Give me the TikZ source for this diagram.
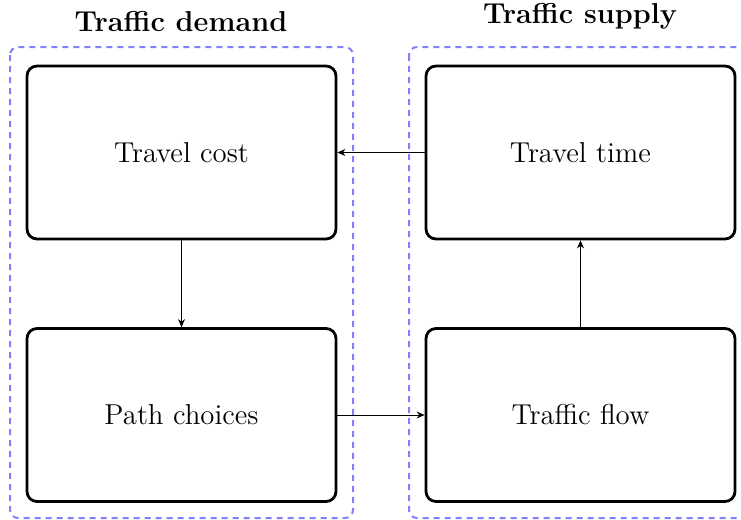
\documentclass[tikz,border=0pt]{standalone}
\usetikzlibrary{arrows.meta}
\begin{document}
\begin{tikzpicture}[x=0.5pt,y=-0.5pt,
  stage/.style={draw=black,line width=1.4pt,rounded corners=5pt,
    minimum width=154.5pt,minimum height=86.5pt,font=\Large,inner sep=0pt},
  group/.style={draw=blue!50,line width=1pt,dash pattern=on 3pt off 2.5pt,rounded corners=4pt},
  title/.style={font=\Large\bfseries},
  flow/.style={-{Stealth[length=4pt,width=3.5pt]},line width=0.4pt}]
\useasboundingbox (0,0) rectangle (741,520);
% dashed groups
\draw[group] (10,47) rectangle (353,518);
\draw[group] (409,47) rectangle (760,518);
\node[title] (tdem) at (181,22) {Traffic demand};
\node[title] (tsup) at (580,16) {Traffic supply};
% stages
\node[stage] (cost) at (181.5,152.5) {Travel cost};
\node[stage] (path) at (181.5,415) {Path choices};
\node[stage] (time) at (580.5,152.5) {Travel time};
\node[stage] (flow) at (580.5,415) {Traffic flow};
% connectors
\draw[flow] (time) -- (cost);
\draw[flow] (cost) -- (path);
\draw[flow] (path) -- (flow);
\draw[flow] (flow) -- (time);
\end{tikzpicture}
\end{document}
